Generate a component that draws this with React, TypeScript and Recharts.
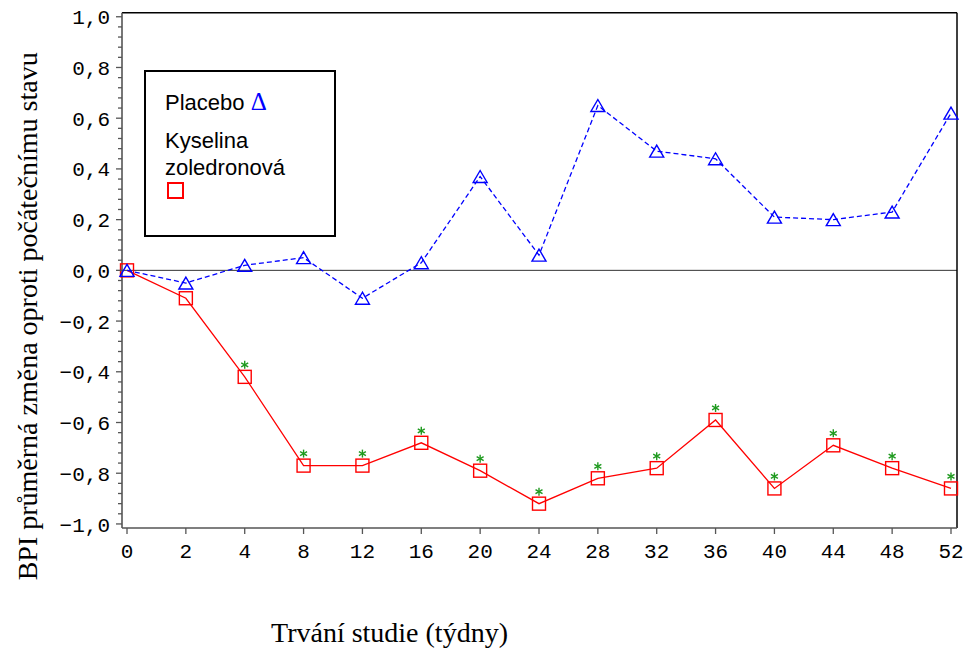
import { Line, LineChart, ReferenceLine, XAxis, YAxis } from 'recharts'

const weeks = ['0', '2', '4', '8', '12', '16', '20', '24', '28', '32', '36', '40', '44', '48', '52']
const placebo = [0, -0.05, 0.02, 0.05, -0.11, 0.03, 0.37, 0.06, 0.65, 0.47, 0.44, 0.21, 0.2, 0.23, 0.62]
const zoledronic = [0, -0.11, -0.42, -0.77, -0.77, -0.68, -0.79, -0.92, -0.82, -0.78, -0.59, -0.86, -0.69, -0.78, -0.86]
const significant = [false, false, true, true, true, true, true, true, true, true, true, true, true, true, true]
const yMajorTicks = [-1, -0.8, -0.6, -0.4, -0.2, 0, 0.2, 0.4, 0.6, 0.8, 1]

const Y_DOMAIN: [number, number] = [-1.016, 1.016]
const X_DOMAIN: [number, number] = [-0.085, 14.102]

const data = weeks.map((w, i) => ({ idx: i, week: w, placebo: placebo[i], zol: zoledronic[i], sig: significant[i] }))

// minor ticks every 0.04 between the labelled ones
const yTicks = yMajorTicks.flatMap((v, i) =>
  i === 0 ? [v] : [1, 2, 3, 4, 5].map((k) => +(yMajorTicks[i - 1] + k * 0.04).toFixed(2)),
)
const isMajor = (v: number) => yMajorTicks.some((m) => Math.abs(m - v) < 1e-6)
const fmt = (v: number) => (v < 0 ? '−' : '') + Math.abs(v).toFixed(1).replace('.', ',')

const tickFont = { fontFamily: '"Liberation Mono", monospace', fontSize: 21, fill: '#000' }
const axisGrey = '#555'

function YTick({ x, y, payload }: any) {
  const v = payload.value
  const major = isMajor(v)
  return (
    <g>
      <line x1={x + (major ? 6 : 8)} x2={x + 12} y1={y} y2={y} stroke={axisGrey} strokeWidth={1.3} />
      {major && (
        <text x={x} y={y} dy="0.36em" textAnchor="end" {...tickFont}>
          {fmt(v)}
        </text>
      )}
    </g>
  )
}

function XTick({ x, y, payload }: any) {
  return (
    <g>
      <line x1={x} x2={x} y1={y - 6} y2={y} stroke={axisGrey} strokeWidth={1.3} />
      <text x={x} y={y + 24} textAnchor="middle" {...tickFont}>
        {weeks[payload.value]}
      </text>
    </g>
  )
}

function YLabel({ viewBox }: any) {
  const cx = viewBox.x + 28
  const cy = viewBox.y + viewBox.height / 2 + 46
  return (
    <text
      x={cx}
      y={cy}
      transform={`rotate(-90 ${cx} ${cy})`}
      textAnchor="middle"
      dominantBaseline="central"
      fontFamily='"Liberation Serif", serif'
      fontSize={28}
      fill="#000"
    >
      BPI průměrná změna oproti počátečnímu stavu
    </text>
  )
}

function XLabel({ viewBox }: any) {
  return (
    <text
      x={viewBox.x + viewBox.width / 2 - 150}
      y={viewBox.y + 114}
      textAnchor="middle"
      fontFamily='"Liberation Serif", serif'
      fontSize={28}
      fill="#000"
    >
      Trvání studie (týdny)
    </text>
  )
}

function TriangleDot(p: any) {
  const { cx, cy, index } = p
  return (
    <polygon
      key={`t${index}`}
      points={`${cx},${cy - 6} ${cx - 7},${cy + 6} ${cx + 7},${cy + 6}`}
      fill="none"
      stroke="#0000ff"
      strokeWidth={1.4}
    />
  )
}

function SquareDot(p: any) {
  const { cx, cy, index, payload } = p
  const ay = cy - 12
  return (
    <g key={`s${index}`}>
      <rect x={cx - 6.5} y={cy - 6.5} width={13} height={13} fill="none" stroke="#ff0000" strokeWidth={1.4} />
      {payload.sig && (
        <g stroke="#1f9a1f" strokeWidth={1.4}>
          <line x1={cx} x2={cx} y1={ay - 4} y2={ay + 4} />
          <line x1={cx - 3.5} x2={cx + 3.5} y1={ay - 2} y2={ay + 2} />
          <line x1={cx - 3.5} x2={cx + 3.5} y1={ay + 2} y2={ay - 2} />
        </g>
      )}
    </g>
  )
}

function LegendBox() {
  const sans = '"Liberation Sans", Arial, sans-serif'
  return (
    <div
      style={{
        position: 'absolute',
        left: 144,
        top: 70,
        width: 188,
        height: 163,
        border: '2px solid #000',
        background: '#fff',
        fontFamily: sans,
        fontSize: 22,
        color: '#000',
        lineHeight: '27px',
      }}
    >
      <div style={{ position: 'absolute', left: 19, top: 16 }}>
        Placebo{' '}
        <span style={{ color: '#0000ff', fontFamily: '"Liberation Serif", serif', fontSize: 25 }}>Δ</span>
      </div>
      <div style={{ position: 'absolute', left: 19, top: 55 }}>
        Kyselina
        <br />
        zoledronová
      </div>
      <div
        style={{
          position: 'absolute',
          left: 21,
          top: 110,
          width: 13,
          height: 13,
          border: '2px solid #ff0000',
        }}
      />
    </div>
  )
}

export default function App() {
  return (
    <div style={{ position: 'absolute', left: 0, top: 0, width: 966, height: 649, background: '#fff' }}>
      <LineChart width={966} height={649} data={data} margin={{ top: 12.7, right: 9, left: 0, bottom: 0 }}>
        <XAxis
          dataKey="idx"
          type="number"
          domain={X_DOMAIN}
          ticks={weeks.map((_, i) => i)}
          interval={0}
          height={121}
          tickSize={6}
          tickMargin={0}
          tick={<XTick />}
          tickLine={false}
          axisLine={{ stroke: axisGrey, strokeWidth: 1.6 }}
          label={<XLabel />}
        />
        <YAxis
          type="number"
          domain={Y_DOMAIN}
          ticks={yTicks}
          interval={0}
          width={122}
          tickSize={6}
          tickMargin={6}
          tick={<YTick />}
          tickLine={false}
          axisLine={{ stroke: axisGrey, strokeWidth: 1.6 }}
          label={<YLabel />}
        />
        <ReferenceLine y={0} stroke="#333" strokeWidth={1} />
        <ReferenceLine y={Y_DOMAIN[1]} stroke="#000" strokeWidth={1.5} ifOverflow="visible" />
        <ReferenceLine x={X_DOMAIN[1]} stroke="#000" strokeWidth={1.5} ifOverflow="visible" />
        <Line
          dataKey="zol"
          stroke="#ff0000"
          strokeWidth={1.3}
          dot={(p: any) => <SquareDot {...p} key={`s${p.index}`} />}
          activeDot={false}
          isAnimationActive={false}
        />
        <Line
          dataKey="placebo"
          stroke="#0000ff"
          strokeWidth={1.3}
          strokeDasharray="5 3"
          dot={(p: any) => <TriangleDot {...p} key={`t${p.index}`} />}
          activeDot={false}
          isAnimationActive={false}
        />
      </LineChart>
      <LegendBox />
    </div>
  )
}
